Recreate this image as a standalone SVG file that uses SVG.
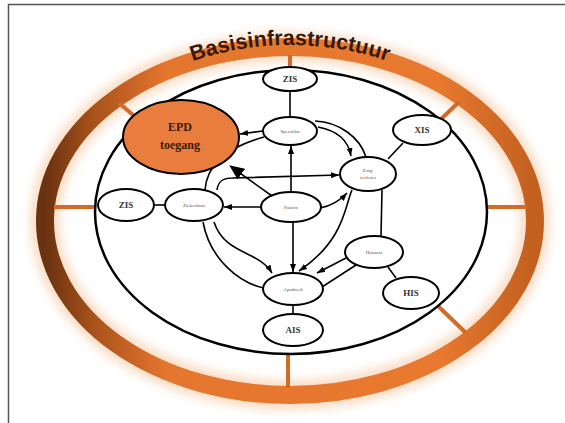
<svg xmlns="http://www.w3.org/2000/svg" width="565" height="423" viewBox="0 0 565 423">
  <defs>
    <linearGradient id="ringGrad" x1="0" y1="0" x2="1" y2="0">
      <stop offset="0" stop-color="#6a3210"/>
      <stop offset="0.1" stop-color="#a9521a"/>
      <stop offset="0.25" stop-color="#e5762e"/>
      <stop offset="0.8" stop-color="#e8792f"/>
      <stop offset="1" stop-color="#c2601f"/>
    </linearGradient>
    <filter id="glow" x="-10%" y="-10%" width="120%" height="120%">
      <feGaussianBlur stdDeviation="5"/>
    </filter>
    <marker id="arr" markerUnits="userSpaceOnUse" markerWidth="8" markerHeight="6" refX="8" refY="3" orient="auto">
      <path d="M0,0 L8,3 L0,6 z" fill="#000"/>
    </marker>
    <marker id="bigarr" markerUnits="userSpaceOnUse" markerWidth="15" markerHeight="13" refX="6" refY="6.5" orient="auto">
      <path d="M0,0 L15,6.5 L0,13 z" fill="#000"/>
    </marker>
    <path id="titlePath" d="M 58,221 A 232,176 0 0 1 522,221"/>
  </defs>
  <style>
    .frame { stroke: #555; stroke-width: 1.5; fill: none; }
    .spoke { stroke: #d46a26; stroke-width: 4; fill: none; }
    .node { fill: #fff; stroke: #000; stroke-width: 2; }
    .conn { stroke: #000; stroke-width: 1.6; fill: none; }
    .arrow { marker-end: url(#arr); }
    .sys { font-family: "Liberation Serif", "Times New Roman", serif; font-weight: bold; font-size: 9px; fill: #333; text-anchor: middle; }
    .small { font-family: "Liberation Serif", "Times New Roman", serif; font-size: 5px; fill: #555; text-anchor: middle; }
    .epd { font-family: "Liberation Serif", "Times New Roman", serif; font-weight: bold; font-size: 12px; fill: #3a1a08; text-anchor: middle; }
    .title { font-family: "Liberation Sans", Arial, sans-serif; font-weight: bold; font-size: 21.5px; fill: #3a1808; }
  </style>

  <rect width="565" height="423" fill="#fff"/>
  <path class="frame" d="M8.5,423 L8.5,4.5 L565,4.5"/>

  <g id="infrastructure">
    <ellipse cx="290" cy="221" rx="245" ry="174" fill="none" stroke="#f0a060" stroke-width="30" opacity="0.35" filter="url(#glow)"/>
    <ellipse cx="290" cy="221" rx="245" ry="174" fill="none" stroke="url(#ringGrad)" stroke-width="18"/>
    <g id="spokes">
      <line class="spoke" x1="290" y1="55" x2="290" y2="70"/>
      <line class="spoke" x1="288" y1="354" x2="288" y2="388"/>
      <line class="spoke" x1="54" y1="207" x2="95" y2="207"/>
      <line class="spoke" x1="487" y1="207" x2="527" y2="207"/>
      <line class="spoke" x1="119" y1="103" x2="140" y2="121"/>
      <line class="spoke" x1="440" y1="120" x2="459" y2="102"/>
      <line class="spoke" x1="438" y1="306" x2="466" y2="333"/>
    </g>
    <ellipse cx="291" cy="212" rx="196" ry="142" fill="none" stroke="#000" stroke-width="2.5"/>
    <text class="title"><textPath href="#titlePath" startOffset="50%" text-anchor="middle">Basisinfrastructuur</textPath></text>
  </g>

  <g id="connectors">
    <line class="conn" x1="290" y1="90" x2="290" y2="117"/>
    <line class="conn" x1="403" y1="143" x2="388" y2="159"/>
    <line class="conn" x1="382" y1="190" x2="381" y2="236"/>
    <line class="conn" x1="388" y1="267" x2="396" y2="278"/>
    <line class="conn" x1="293" y1="305" x2="293" y2="314"/>
    <line class="conn" x1="152" y1="205" x2="166" y2="205" stroke-width="2.5"/>
    <line class="conn arrow" x1="291" y1="192" x2="291" y2="146"/>
    <line class="conn arrow" x1="261" y1="207" x2="224" y2="207"/>
    <line class="conn arrow" x1="293" y1="222" x2="293" y2="272"/>
    <line class="conn" x1="272" y1="196" x2="236.5" y2="170.6" stroke-width="4" marker-end="url(#bigarr)"/>
    <path class="conn arrow" d="M320,208 Q336,205 347,193"/>
    <line class="conn arrow" x1="263" y1="131" x2="240" y2="134"/>
    <path class="conn arrow" d="M318,127 C338,131 348,140 351,156"/>
    <path class="conn" d="M315,121 C340,122 360,138 366,157"/>
    <path class="conn" d="M264,137 C235,145 207,160 205,190"/>
    <path class="conn arrow" d="M217,190 C218,182 222,178 232,178 L339,175"/>
    <path class="conn arrow" d="M214,222 C225,255 258,250 272,273"/>
    <path class="conn" d="M203,222 C210,260 240,283 264,288"/>
    <path class="conn arrow" d="M352,190 C345,205 345,240 299,271"/>
    <line class="conn arrow" x1="346" y1="258" x2="317" y2="273"/>
    <line class="conn" x1="356" y1="265" x2="322" y2="287"/>
  </g>

  <g id="zis-top">
    <ellipse class="node" cx="290" cy="79" rx="27" ry="12"/>
    <text class="sys" x="290" y="82">ZIS</text>
  </g>
  <g id="specialist">
    <ellipse class="node" cx="290" cy="131" rx="27" ry="14"/>
    <text class="small" x="290" y="133">Specialist</text>
  </g>
  <g id="xis">
    <ellipse class="node" cx="422" cy="130" rx="29" ry="15"/>
    <text class="sys" x="422" y="133">XIS</text>
  </g>
  <g id="epd-toegang">
    <ellipse cx="181" cy="137" rx="58" ry="37" fill="#e87d3e" stroke="#000" stroke-width="2"/>
    <text class="epd" x="180" y="131">EPD</text>
    <text class="epd" x="180" y="149">toegang</text>
  </g>
  <g id="zis-left">
    <ellipse class="node" cx="126" cy="205" rx="28" ry="16"/>
    <text class="sys" x="126" y="208">ZIS</text>
  </g>
  <g id="ziekenhuis">
    <ellipse class="node" cx="194" cy="205" rx="29" ry="16"/>
    <text class="small" x="194" y="207">Ziekenhuis</text>
  </g>
  <g id="patient">
    <ellipse class="node" cx="291" cy="207" rx="30" ry="15"/>
    <text class="small" x="291" y="209">Patiënt</text>
  </g>
  <g id="zorgverlener">
    <ellipse class="node" cx="368" cy="174" rx="28" ry="17"/>
    <text class="small" x="368" y="172">Zorg-</text>
    <text class="small" x="368" y="179">verlener</text>
  </g>
  <g id="huisarts">
    <ellipse class="node" cx="374" cy="252" rx="29" ry="16"/>
    <text class="small" x="374" y="254">Huisarts</text>
  </g>
  <g id="his">
    <ellipse class="node" cx="411" cy="293" rx="28" ry="16"/>
    <text class="sys" x="411" y="296">HIS</text>
  </g>
  <g id="apotheek">
    <ellipse class="node" cx="293" cy="289" rx="30" ry="16"/>
    <text class="small" x="293" y="291">Apotheek</text>
  </g>
  <g id="ais">
    <ellipse class="node" cx="293" cy="330" rx="30" ry="16"/>
    <text class="sys" x="293" y="333">AIS</text>
  </g>
</svg>
